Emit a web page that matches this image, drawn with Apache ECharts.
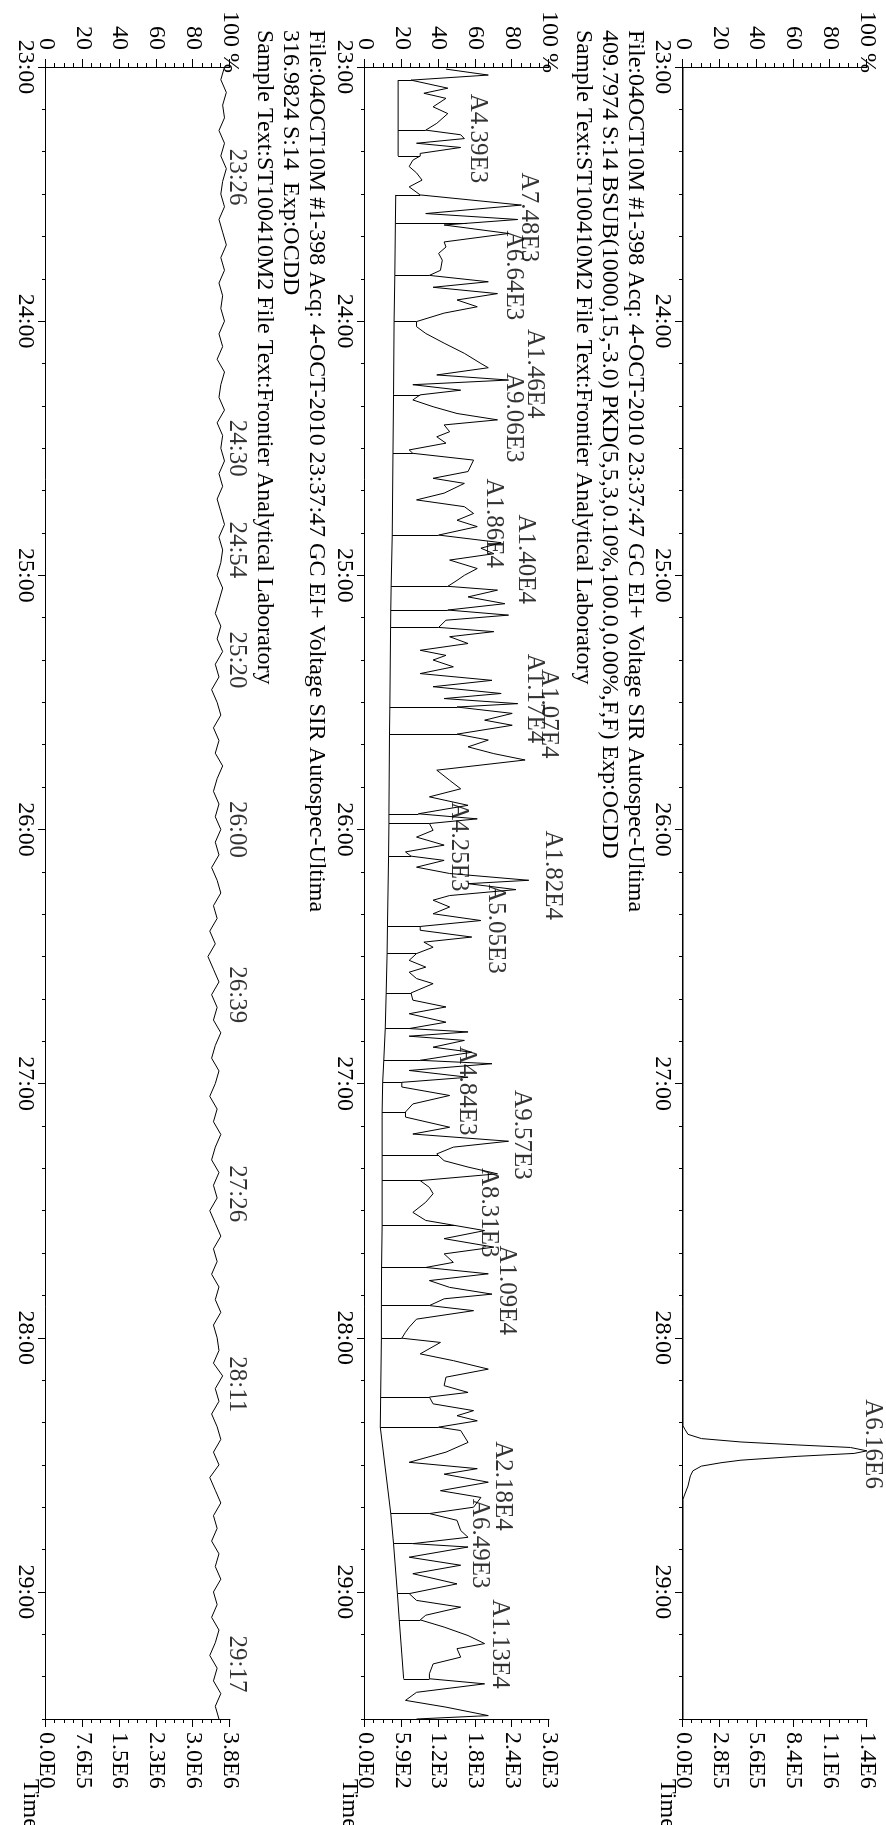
<!DOCTYPE html>
<html><head><meta charset="utf-8">
<script src="https://cdn.jsdelivr.net/npm/echarts@6/dist/echarts.min.js"></script>
<style>
html,body{margin:0;padding:0;background:#fff;width:886px;height:1825px;overflow:hidden;}
#wrap{position:absolute;left:0;top:0;width:1825px;height:886px;transform-origin:0 0;transform:translate(886px,0) rotate(90deg);}
#chart{width:1825px;height:886px;}
</style></head><body><div id="wrap"><div id="chart"></div></div>
<script>
// ---------- data ----------
const START = 1380;   // 23:00 in seconds
const END = 1770;     // 29:30
const leftLabels = ['0','20','40','60','80','100 %'];
const p1Right = ['0.0E0','2.8E5','5.6E5','8.4E5','1.1E6','1.4E6'];
const p2Right = ['0.0E0','5.9E2','1.2E3','1.8E3','2.4E3','3.0E3'];
const p3Right = ['0.0E0','7.6E5','1.5E6','2.3E6','3.0E6','3.8E6'];

const p2Header = ['File:04OCT10M #1-398 Acq: 4-OCT-2010 23:37:47 GC EI+ Voltage SIR Autospec-Ultima',
  '409.7974 S:14 BSUB(10000,15,-3.0) PKD(5,5,3,0.10%,100.0,0.00%,F,F) Exp:OCDD',
  'Sample Text:ST100410M2 File Text:Frontier Analytical Laboratory'];
const p3Header = ['File:04OCT10M #1-398 Acq: 4-OCT-2010 23:37:47 GC EI+ Voltage SIR Autospec-Ultima',
  '316.9824 S:14  Exp:OCDD',
  'Sample Text:ST100410M2 File Text:Frontier Analytical Laboratory'];

// panel 1 (seconds after 23:00, % of full scale)
const p1Trace = [[0,0],[320.8,0],[321.6,1],[322.8,2.7],[323.8,10],[324.6,31.5],[325.3,62],[325.9,91],[326.7,100],
  [327.3,93],[328.0,62],[328.9,31.5],[329.5,20.7],[330.3,10],[331.4,5.4],[332.6,4],[335.0,2.7],[336.9,1],[338.1,0],[390,0]];
const p1Labels = [[325.1,103,'A6.16E6']];

// panel 2 trace
const p2Trace = [[0.5,44],[1.9,67],[3.1,25],[5.0,45],[6.2,32],[7.4,44],[9.4,37],[11.0,45],[13.3,39],[14.9,33],[16.0,52],[16.9,54],[18.0,28],[19.0,52],[20.4,30],[21.0,30],[22.0,26],[23.5,24],[25.0,28],[26.7,31],[28.3,24],[30.2,30],[32.6,85],[34.6,33],[36.0,83],[37.3,43],[39.3,78],[41.3,43],[42.5,44],[44.0,40],[45.6,42],[48.0,41],[49.2,35],[50.7,67],[52.0,37],[53.5,72],[55.0,50],[56.6,61],[58.1,43],[60.1,28],[61.3,28],[62.9,33],[65.2,43],[67.6,54],[70.0,63],[71.0,67],[72.7,39],[73.9,78],[75.0,26],[76.3,52],[77.4,30],[78.6,26],[80.2,37],[81.8,50],[83.3,72],[84.5,43],[86.1,46],[87.3,39],[88.8,44],[90.4,24],[91.2,26],[92.8,59],[95.5,56],[97.1,37],[98.3,54],[100.6,43],[102.2,28],[103.8,54],[105.4,59],[107.0,50],[108.5,61],[110.5,40],[112.3,74],[113.6,63],[114.9,70],[116.4,46],[118.4,61],[120.0,54],[121.2,50],[122.6,45],[123.5,72],[125.1,56],[126.7,76],[128.2,45],[129.4,78],[130.6,44],[132.3,40],[133.3,70],[134.5,46],[136.1,56],[137.7,30],[138.9,44],[140.0,37],[141.6,48],[143.2,30],[144.8,69],[146.3,37],[147.9,74],[149.1,43],[150.3,83],[151.1,50],[152.6,80],[154.2,65],[155.4,80],[157.5,50],[158.9,67],[160.5,56],[162.1,70],[163.6,87],[166.0,39],[168.4,46],[170.4,52],[172.3,35],[174.3,56],[176.3,29],[177.5,61],[178.6,35],[180.2,37],[181.8,28],[183.7,43],[185.3,22],[186.3,25],[187.3,43],[188.9,28],[190.4,46],[192.0,89],[192.8,56],[194.2,82],[195.6,46],[196.7,37],[198.3,46],[199.9,37],[201.5,63],[202.9,30],[203.8,30],[205.4,58],[206.6,32],[207.8,37],[209.3,28],[210.9,24],[212.5,33],[213.7,24],[215.2,28],[216.4,37],[218.6,25],[220.3,26],[221.9,44],[223.5,24],[225.5,44],[227.0,24],[227.8,56],[228.8,24],[229.8,54],[231.4,37],[232.6,58],[234.5,30],[235.3,69],[236.9,24],[238.5,56],[239.7,20],[240.8,20],[242.8,46],[244.8,26],[246.7,22],[247.9,22],[250.3,46],[251.9,26],[253.6,78],[255.0,48],[256.6,39],[258.2,43],[259.7,56],[261.3,72],[262.9,30],[264.5,35],[266.0,37],[268.0,33],[270.4,26],[272.3,33],[274.7,65],[276.6,43],[278.6,70],[280.2,43],[282.2,48],[283.4,33],[284.9,67],[286.5,35],[288.1,46],[289.7,69],[290.8,43],[292.4,35],[293.6,59],[295.6,28],[297.5,24],[298.7,22],[300.1,20],[301.1,41],[303.8,30],[305.4,48],[307.4,67],[309.3,44],[311.3,43],[312.9,56],[314.0,35],[315.6,37],[317.2,59],[318.4,50],[319.6,61],[321.1,40],[321.9,52],[324.7,56],[327.0,44],[329.4,24],[330.9,61],[332.2,43],[334.1,67],[336.1,41],[337.7,63],[340.0,59],[341.5,35],[343.1,50],[345.5,52],[347.1,56],[348.6,26],[349.4,56],[351.8,24],[353.7,52],[355.7,26],[358.1,50],[360.4,24],[362.0,28],[363.6,52],[365.5,33],[366.6,30],[368.3,43],[370.3,56],[372.2,65],[373.4,50],[375.4,52],[377.0,37],[379.3,35],[380.5,35],[381.7,65],[383.7,28],[385.6,22],[387.2,44],[389.2,67],[390.0,28]];
// panel 2 integration baselines (boundary times, baseline %)
const p2BaseA = [[3.1,18],[14.9,18],[21.0,18]];
const p2BaseB = [[30.2,16.7],[36.9,16.5],[49.2,16.2],[60.1,15.8],[77.4,15.5],[91.2,15.2],[110.5,14.8],[122.6,14.2],[128.2,14.0],[132.3,13.9],[151.1,13.5],[157.5,13.3],[176.3,13.0],[178.6,13.0],[186.3,12.8],[202.9,12.2],[209.3,12.0],[218.6,11.5],[227.0,11.0],[234.5,10.2],[239.7,9.6],[246.7,9.3],[257.0,9.3],[262.9,9.3],[273.5,9.3],[283.3,9.0],[292.4,8.9],[300.1,8.9],[314.0,8.5],[321.1,8.3],[341.5,14.0],[348.6,15.5],[360.4,17.6],[366.6,18.6],[380.5,21.0]];
const p2Labels = [[16.9,61,'A4.39E3'],[35.5,89,'A7.48E3'],[49.2,81,'A6.64E3'],[72.4,92,'A1.46E4'],[82.8,81,'A9.06E3'],
  [107.7,70,'A1.86E4'],[116.2,87,'A1.40E4'],[149.1,92,'A1.17E4'],[152.7,100,'A1.07E4'],[184.1,51,'A4.25E3'],
  [190.8,102,'A1.82E4'],[203.5,71,'A5.05E3'],[241.7,55,'A4.84E3'],[252.1,85,'A9.57E3'],[270.5,67,'A8.31E3'],
  [288.8,77,'A1.09E4'],[335.0,75,'A2.18E4'],[348.6,62,'A6.49E3'],[372.3,73,'A1.13E4']];

// panel 3 (lock mass) sampled every 3 s from 23:00
const p3Times = [0,3,6,9,12,15,18,21,24,27,30,33,36,39,42,45,48,51,54,57,60,63,66,69,72,75,78,81,84,87,90,93,96,99,102,105,108,111,114,117,120,123,126,129,132,135,138,141,144,147,150,153,156,159,162,165,168,171,174,177,180,183,186,189,192,195,198,201,204,207,210,213,216,219,222,225,228,231,234,237,240,243,246,249,252,255,258,261,264,267,270,273,276,279,282,285,288,291,294,297,300,303,306,309,312,315,318,321,324,327,330,333,336,339,342,345,348,351,354,357,360,363,366,369,372,375,378,381,384,387,390];
const p3Vals = [97,95,98,96,97,94,97,95,98,96,95,97,94,96,98,95,97,94,96,95,97,
  94,96,93,97,95,94,97,93,96,95,97,94,96,93,95,97,94,96,95,93,
  96,94,92,95,93,96,92,94,90,93,95,91,94,92,96,93,91,94,92,95,
  92,94,90,93,95,91,93,89,92,88,91,94,90,93,91,95,92,90,94,92,
  89,93,91,95,92,90,94,91,93,89,92,95,91,93,90,94,92,95,91,93,
  94,91,96,92,94,90,93,95,91,94,89,92,95,91,93,90,94,92,95,91,
  93,90,94,92,89,93,91,95,92,94];
// peak-time labels: seconds after 23:00
const p3Labels = [[26,103.5,'23:26'],[90,103.5,'24:30'],[114,103.5,'24:54'],[140,103.5,'25:20'],[180,103.5,'26:00'],
  [219,103.5,'26:39'],[266,103.5,'27:26'],[311,103.5,'28:11'],[377,103.5,'29:17']];

// ---------- chart ----------
const FONT = '"Liberation Serif","DejaVu Serif",serif';
const BLACK = '#000';
const tops = [19, 337, 656];
const H = 184, LEFT = 67, W = 1652;
const rights = [p1Right, p2Right, p3Right];

function timeLabel(v){ return (v % 60 === 0) ? (v/60) + ':00' : ''; }
function abs(arr){ return arr.map(p => [START + p[0], p[1]]); }
function interp(trace, t){
  for (let i = 1; i < trace.length; i++) {
    if (trace[i][0] >= t) {
      const a = trace[i-1], b = trace[i];
      const f = (t - a[0]) / (b[0] - a[0] || 1);
      return a[1] + f * (b[1] - a[1]);
    }
  }
  return trace[trace.length-1][1];
}

const grid = [], xAxis = [], yAxis = [], series = [], graphic = [];
tops.forEach((top, i) => {
  grid.push({left: LEFT, width: W, top: top, height: H});
  xAxis.push({gridIndex: i, type: 'value', position: 'bottom', min: START, max: END, interval: 10,
    axisLine: {show: true, onZero: false, lineStyle: {color: BLACK, width: 1}},
    axisTick: {show: true, length: 4, lineStyle: {color: BLACK}},
    axisLabel: {show: false}, splitLine: {show: false}});
  xAxis.push({gridIndex: i, type: 'value', position: 'bottom', min: START, max: END, interval: 60,
    axisLine: {show: false, onZero: false},
    axisTick: {show: true, length: 8, lineStyle: {color: BLACK}},
    axisLabel: {show: true, formatter: timeLabel, fontSize: 24, fontFamily: FONT, color: BLACK, margin: 9, showMaxLabel: false},
    splitLine: {show: false}});
  const yCommon = {gridIndex: i, type: 'value', min: 0, max: 100, interval: 20,
    axisLine: {show: true, onZero: false, lineStyle: {color: BLACK, width: 1}},
    axisTick: {show: true, length: 8, lineStyle: {color: BLACK}},
    minorTick: {show: true, splitNumber: 4, length: 4, lineStyle: {color: BLACK}},
    splitLine: {show: false}, minorSplitLine: {show: false}};
  yAxis.push(Object.assign({}, yCommon, {position: 'left',
    axisLabel: {formatter: v => v === 100 ? '' : leftLabels[Math.round(v/20)], fontSize: 24, fontFamily: FONT, color: BLACK, margin: 17}}));
  yAxis.push(Object.assign({}, yCommon, {position: 'right',
    axisLabel: {formatter: v => rights[i][Math.round(v/20)], fontSize: 24, fontFamily: FONT, color: BLACK, margin: 13}}));

  graphic.push({type: 'text', x: 73, y: top, style: {text: leftLabels[5], font: '24px ' + FONT, fill: BLACK, textAlign: 'right', textVerticalAlign: 'middle'}});
  graphic.push({type: 'text', x: 1779, y: top + H + 16, style: {text: 'Time', font: '24px ' + FONT, fill: BLACK, textAlign: 'left', textVerticalAlign: 'middle'}});
});

const headers = [null, p2Header, p3Header];
headers.forEach((hd, i) => {
  if (!hd) return;
  [-86, -60, -34].forEach((off, k) => {
    graphic.push({type: 'text', x: 30, y: tops[i] + off, style: {text: hd[k], font: '24px ' + FONT, fill: BLACK, textAlign: 'left', textVerticalAlign: 'middle'}});
  });
});

function lineSeries(i, data, extra){
  return Object.assign({type: 'line', xAxisIndex: 2*i, yAxisIndex: 2*i, data: data, showSymbol: false, symbol: 'none',
    lineStyle: {color: BLACK, width: 1}, animation: false, silent: true, clip: false}, extra || {});
}
function labelSeries(i, labels){
  return {type: 'scatter', xAxisIndex: 2*i, yAxisIndex: 2*i, symbolSize: 1, clip: false, silent: true, animation: false,
    itemStyle: {color: 'rgba(0,0,0,0)'},
    data: labels.map(l => [START + l[0], l[1], l[2]]),
    label: {show: true, position: 'inside', formatter: p => p.data[2], fontSize: 25, fontFamily: FONT, color: BLACK}};
}

// panel 1
series.push(lineSeries(0, abs(p1Trace)));
series.push(labelSeries(0, p1Labels));
// panel 2
const drops = p2BaseA.concat(p2BaseB).map(b => [
  {coord: [START + b[0], b[1]]},
  {coord: [START + b[0], interp(p2Trace, b[0])]}
]);
series.push(lineSeries(1, abs(p2Trace), {markLine: {silent: true, symbol: ['none','none'], label: {show: false},
  lineStyle: {color: BLACK, width: 1, type: 'solid'}, animation: false, data: drops}}));
series.push(lineSeries(1, abs(p2BaseA)));
series.push(lineSeries(1, abs(p2BaseB)));
series.push(labelSeries(1, p2Labels));
// panel 3
series.push(lineSeries(2, p3Times.map((t, k) => [START + t, p3Vals[k]])));
series.push(labelSeries(2, p3Labels));

const chart = echarts.init(document.getElementById('chart'), null, {width: 1825, height: 886});
chart.setOption({backgroundColor: '#fff', animation: false, grid, xAxis, yAxis, series, graphic});
</script></body></html>
